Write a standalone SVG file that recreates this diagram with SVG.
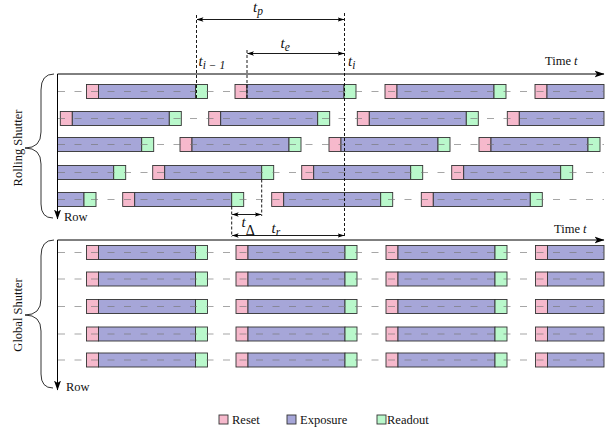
<svg xmlns="http://www.w3.org/2000/svg" xmlns:xlink="http://www.w3.org/1999/xlink" width="611" height="431" viewBox="0 0 611 431" font-family="Liberation Serif, serif">
<style>
.r{fill:#f6b9cc;stroke:#333;stroke-width:0.9}
.e{fill:#a6a6d8;stroke:#333;stroke-width:0.9}
.o{fill:#b9f8cb;stroke:#333;stroke-width:0.9}
.dl{stroke:#777;stroke-opacity:0.65;stroke-width:1;stroke-dasharray:7 9.5;fill:none}
.ax{stroke:#000;stroke-width:1;fill:none}
.vd{stroke:#000;stroke-width:0.9;stroke-dasharray:3 2;fill:none}
.ar{stroke:#000;stroke-width:0.9;fill:none}
.br{stroke:#000;stroke-width:0.8;fill:none}
text{font-size:12.5px;fill:#111}
.m{font-style:italic;font-size:15px}
.s{font-style:italic;font-size:11.5px}
</style>
<defs>
<g id="fr">
<rect class="r" x="0" y="0" width="12" height="14"/>
<rect class="e" x="12" y="0" width="97" height="14"/>
<rect class="o" x="109" y="0" width="12" height="14"/>
</g>
<marker id="ah" viewBox="0 0 10 8" refX="9.5" refY="4" markerWidth="10" markerHeight="8" markerUnits="userSpaceOnUse" orient="auto-start-reverse">
<path d="M0,0.5 L10,4 L0,7.5 L2.5,4 Z" fill="#000"/>
</marker>
<marker id="sa" viewBox="0 0 7 5" refX="6.5" refY="2.5" markerWidth="7" markerHeight="5" markerUnits="userSpaceOnUse" orient="auto-start-reverse">
<path d="M0,0.3 L7,2.5 L0,4.7 L1.6,2.5 Z" fill="#000"/>
</marker>
</defs>

<g id="rolling-rows">
<g id="rs-row1">
<use xlink:href="#fr" x="86.5" y="84.5"/><use xlink:href="#fr" x="235" y="84.5"/><use xlink:href="#fr" x="385" y="84.5"/>
<rect class="r" x="535" y="84.5" width="12" height="14"/><rect class="e" x="547" y="84.5" width="57" height="14"/>
<line class="dl" x1="58" y1="91.5" x2="604" y2="91.5"/>
</g>
<g id="rs-row2">
<use xlink:href="#fr" x="60.3" y="111.5"/><use xlink:href="#fr" x="208.7" y="111.5"/><use xlink:href="#fr" x="357.3" y="111.5"/>
<rect class="r" x="507.3" y="111.5" width="12" height="14"/><rect class="e" x="519.3" y="111.5" width="84.7" height="14"/>
<line class="dl" x1="58" y1="118.5" x2="604" y2="118.5"/>
</g>
<g id="rs-row3">
<rect class="e" x="57.5" y="137.5" width="84.2" height="14"/><rect class="o" x="141.7" y="137.5" width="12" height="14"/>
<use xlink:href="#fr" x="180" y="137.5"/><use xlink:href="#fr" x="329" y="137.5"/><use xlink:href="#fr" x="479" y="137.5"/>
<line class="dl" x1="58" y1="144.5" x2="604" y2="144.5"/>
</g>
<g id="rs-row4">
<rect class="e" x="57.5" y="165.5" width="56.2" height="14"/><rect class="o" x="113.7" y="165.5" width="12" height="14"/>
<use xlink:href="#fr" x="152.7" y="165.5"/><use xlink:href="#fr" x="301.7" y="165.5"/><use xlink:href="#fr" x="451.7" y="165.5"/>
<line class="dl" x1="58" y1="172.5" x2="604" y2="172.5"/>
</g>
<g id="rs-row5">
<rect class="e" x="57.5" y="192.5" width="26.5" height="14"/><rect class="o" x="84" y="192.5" width="12" height="14"/>
<use xlink:href="#fr" x="122.7" y="192.5"/><use xlink:href="#fr" x="271.7" y="192.5"/><use xlink:href="#fr" x="421.3" y="192.5"/>
<line class="dl" x1="58" y1="199.5" x2="604" y2="199.5"/>
</g>
</g>

<g id="global-rows">
<g id="gs-row1">
<use xlink:href="#fr" x="86.5" y="245.5"/><use xlink:href="#fr" x="236" y="245.5"/><use xlink:href="#fr" x="386" y="245.5"/>
<rect class="r" x="535.5" y="245.5" width="12" height="14"/><rect class="e" x="547.5" y="245.5" width="56.5" height="14"/>
<line class="dl" x1="58" y1="252.5" x2="604" y2="252.5"/>
</g>
<g id="gs-row2">
<use xlink:href="#fr" x="86.5" y="272"/><use xlink:href="#fr" x="236" y="272"/><use xlink:href="#fr" x="386" y="272"/>
<rect class="r" x="535.5" y="272" width="12" height="14"/><rect class="e" x="547.5" y="272" width="56.5" height="14"/>
<line class="dl" x1="58" y1="279" x2="604" y2="279"/>
</g>
<g id="gs-row3">
<use xlink:href="#fr" x="86.5" y="299.5"/><use xlink:href="#fr" x="236" y="299.5"/><use xlink:href="#fr" x="386" y="299.5"/>
<rect class="r" x="535.5" y="299.5" width="12" height="14"/><rect class="e" x="547.5" y="299.5" width="56.5" height="14"/>
<line class="dl" x1="58" y1="306.5" x2="604" y2="306.5"/>
</g>
<g id="gs-row4">
<use xlink:href="#fr" x="86.5" y="327"/><use xlink:href="#fr" x="236" y="327"/><use xlink:href="#fr" x="386" y="327"/>
<rect class="r" x="535.5" y="327" width="12" height="14"/><rect class="e" x="547.5" y="327" width="56.5" height="14"/>
<line class="dl" x1="58" y1="334" x2="604" y2="334"/>
</g>
<g id="gs-row5">
<use xlink:href="#fr" x="86.5" y="353"/><use xlink:href="#fr" x="236" y="353"/><use xlink:href="#fr" x="386" y="353"/>
<rect class="r" x="535.5" y="353" width="12" height="14"/><rect class="e" x="547.5" y="353" width="56.5" height="14"/>
<line class="dl" x1="58" y1="360" x2="604" y2="360"/>
</g>
</g>

<g id="axes">
<path class="ax" d="M57.5,74 H604" marker-end="url(#ah)"/>
<path class="ax" d="M57.5,74 V219" marker-end="url(#ah)"/>
<path class="ax" d="M57.5,240 H604" marker-end="url(#ah)"/>
<path class="ax" d="M57.5,240 V390" marker-end="url(#ah)"/>
<path class="br" d="M54,74 Q41,74 41,90 L41,132 Q41,148 25,148 Q41,148 41,164 L41,204 Q41,218 53,218"/>
<path class="br" d="M54,240 Q41,240 41,256 L41,299 Q41,315 25,315 Q41,315 41,331 L41,374 Q41,388 53,388"/>
<text x="545" y="64.5">Time <tspan font-style="italic">t</tspan></text>
<text x="554" y="232.5">Time <tspan font-style="italic">t</tspan></text>
<text x="64" y="220.5">Row</text>
<text x="66" y="391">Row</text>
<text transform="translate(22,148) rotate(-90)" text-anchor="middle">Rolling Shutter</text>
<text transform="translate(22,315) rotate(-90)" text-anchor="middle">Global Shutter</text>
</g>

<g id="connectors">
<line class="vd" x1="196.5" y1="15" x2="196.5" y2="98.5"/>
<line class="vd" x1="247" y1="50" x2="247" y2="98.5"/>
<line class="vd" x1="344.5" y1="13" x2="344.5" y2="237"/>
<line class="vd" x1="261.7" y1="179.5" x2="261.7" y2="216"/>
<line class="vd" x1="231.7" y1="206.5" x2="231.7" y2="237"/>
<line class="ar" x1="197" y1="19.5" x2="344" y2="19.5" marker-start="url(#sa)" marker-end="url(#sa)"/>
<line class="ar" x1="247.5" y1="53.5" x2="344" y2="53.5" marker-start="url(#sa)" marker-end="url(#sa)"/>
<line class="ar" x1="232.2" y1="214.5" x2="261.2" y2="214.5" marker-start="url(#sa)" marker-end="url(#sa)"/>
<line class="ar" x1="232.2" y1="235.5" x2="344" y2="235.5" marker-start="url(#sa)" marker-end="url(#sa)"/>
</g>

<g id="labels">
<text class="m" x="253" y="12">t<tspan class="s" dy="3">p</tspan></text>
<text class="m" x="280.5" y="48">t<tspan class="s" dy="3">e</tspan></text>
<text class="m" x="198.5" y="66">t<tspan class="s" dy="3">i − 1</tspan></text>
<text class="m" x="348" y="66">t<tspan class="s" dy="3">i</tspan></text>
<text class="m" x="241.5" y="227">t<tspan font-style="normal" font-size="14px" dy="8">Δ</tspan></text>
<text class="m" x="271.5" y="233">t<tspan class="s" dy="3">r</tspan></text>
</g>

<g id="legend">
<rect class="r" x="219" y="415" width="9" height="9"/>
<text x="232" y="423.5">Reset</text>
<rect class="e" x="287" y="415" width="9" height="9"/>
<text x="300" y="423.5">Exposure</text>
<rect class="o" x="377" y="415" width="9" height="9"/>
<text x="387" y="423.5">Readout</text>
</g>
</svg>
